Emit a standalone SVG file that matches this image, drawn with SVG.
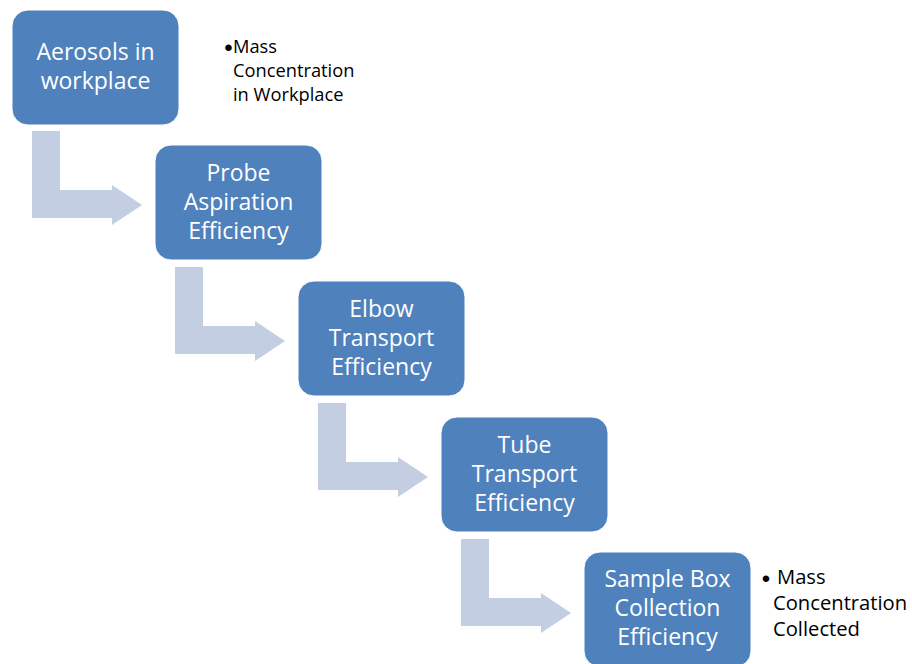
<svg xmlns="http://www.w3.org/2000/svg" width="912" height="664" viewBox="0 0 912 664">
<style>
.box{fill:#4F81BD;stroke:#ffffff;stroke-width:1}
.arr{fill:#C4CEE3}
.bt{font-family:"Open Sans","Liberation Sans",sans-serif;font-size:23px;fill:#ffffff;text-anchor:middle}
.s1{font-family:"Open Sans","Liberation Sans",sans-serif;font-size:18.3px;fill:#000000}
.s2{font-family:"Open Sans","Liberation Sans",sans-serif;font-size:20.2px;fill:#000000}
.bl{font-family:"Liberation Sans",sans-serif;font-size:24px;fill:#000000;text-anchor:middle}
</style>
<defs>
<path id="bend" d="M32,131 L60,131 L60,190 L112,190 L112,185 L142,205 L112,225 L112,218 L32,218 Z"/>
</defs>
<rect width="912" height="664" fill="#ffffff"/>
<g id="connectors">
<use href="#bend" class="arr"/>
<use href="#bend" class="arr" transform="translate(143,136)"/>
<use href="#bend" class="arr" transform="translate(286,272)"/>
<use href="#bend" class="arr" transform="translate(429,408)"/>
</g>
<g id="node1">
<rect class="box" x="12" y="10" width="167" height="115" rx="16"/>
<text class="bt" x="95.5" y="60">Aerosols in</text>
<text class="bt" x="95.5" y="89">workplace</text>
</g>
<g id="node2">
<rect class="box" x="155" y="145" width="167" height="115" rx="16"/>
<text class="bt" x="238.5" y="181">Probe</text>
<text class="bt" x="238.5" y="210">Aspiration</text>
<text class="bt" x="238.5" y="239">Efficiency</text>
</g>
<g id="node3">
<rect class="box" x="298" y="281" width="167" height="115" rx="16"/>
<text class="bt" x="381.5" y="317">Elbow</text>
<text class="bt" x="381.5" y="346">Transport</text>
<text class="bt" x="381.5" y="375">Efficiency</text>
</g>
<g id="node4">
<rect class="box" x="441" y="417" width="167" height="115" rx="16"/>
<text class="bt" x="524.5" y="453">Tube</text>
<text class="bt" x="524.5" y="482">Transport</text>
<text class="bt" x="524.5" y="511">Efficiency</text>
</g>
<g id="node5">
<rect class="box" x="584" y="552" width="167" height="115" rx="16"/>
<text class="bt" x="667.5" y="587">Sample Box</text>
<text class="bt" x="667.5" y="616">Collection</text>
<text class="bt" x="667.5" y="645">Efficiency</text>
</g>
<g id="note1">
<text class="bl" x="228.5" y="56">•</text>
<text class="s1" x="233" y="53">Mass</text>
<text class="s1" x="233" y="77">Concentration</text>
<text class="s1" x="233" y="101">in Workplace</text>
</g>
<g id="note2">
<text class="bl" x="766" y="587">•</text>
<text class="s2" x="777" y="584">Mass</text>
<text class="s2" x="773" y="610">Concentration</text>
<text class="s2" x="773" y="636">Collected</text>
</g>
</svg>
